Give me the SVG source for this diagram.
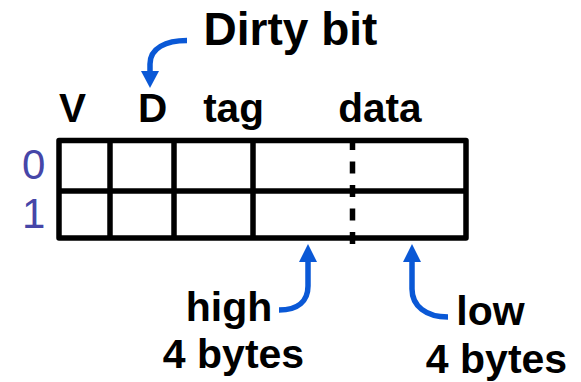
<svg xmlns="http://www.w3.org/2000/svg" width="581" height="382" viewBox="0 0 581 382">
  <style>
    .lbl { font-family: "Liberation Sans", Arial, sans-serif; font-weight: bold; fill: #000; }
    .idx { font-family: "Liberation Sans", Arial, sans-serif; font-size: 42px; fill: #4646a8; }
    .grid { stroke: #000; stroke-width: 5.5; fill: none; }
    .ptr { stroke: #0a58d6; stroke-width: 5.5; fill: none; }
    .head { fill: #0a58d6; }
  </style>

  <!-- two-line cache table -->
  <g id="table">
    <rect class="grid" x="59" y="140.5" width="407" height="97.5" stroke-linejoin="round"/>
    <line class="grid" x1="59" y1="191" x2="466" y2="191"/>
    <line class="grid" x1="110" y1="140.5" x2="110" y2="238"/>
    <line class="grid" x1="174" y1="140.5" x2="174" y2="238"/>
    <line class="grid" x1="253" y1="140.5" x2="253" y2="238"/>
    <line class="grid" x1="352.5" y1="138" x2="352.5" y2="244" stroke-dasharray="12 11.5"/>
  </g>

  <!-- row indices -->
  <g id="row-index">
    <text class="idx" x="22" y="179">0</text>
    <text class="idx" x="22" y="228">1</text>
  </g>

  <!-- column headers -->
  <g id="headers">
    <text class="lbl" font-size="40.5" x="72.5" y="122" text-anchor="middle">V</text>
    <text class="lbl" font-size="40.5" x="152.5" y="122" text-anchor="middle">D</text>
    <text class="lbl" font-size="40.5" x="233.5" y="122" text-anchor="middle">tag</text>
    <text class="lbl" font-size="40.5" x="380" y="122" text-anchor="middle">data</text>
  </g>

  <!-- callout labels -->
  <g id="dirty-label">
    <text class="lbl" font-size="46" x="290.5" y="45" text-anchor="middle">Dirty bit</text>
  </g>
  <g id="high-label">
    <text class="lbl" font-size="41" x="229" y="321" text-anchor="middle">high</text>
    <text class="lbl" font-size="41" x="233.5" y="368" text-anchor="middle">4 bytes</text>
  </g>
  <g id="low-label">
    <text class="lbl" font-size="41" x="490.5" y="325" text-anchor="middle">low</text>
    <text class="lbl" font-size="41" x="496.5" y="373" text-anchor="middle">4 bytes</text>
  </g>

  <!-- pointer arrows -->
  <g id="connectors">
    <path class="ptr" d="M187,40.5 C166,40.5 150,48 150,64 L150,73"/>
    <polygon class="head" points="141,71 159,71 150,88"/>

    <path class="ptr" d="M279,310 C298,310 308,301 308,286 L308,261"/>
    <polygon class="head" points="299,262 317,262 308,244"/>

    <path class="ptr" d="M448,317 C426,317 412,306 412,289 L412,261"/>
    <polygon class="head" points="403,262 421,262 412,244"/>
  </g>
</svg>
